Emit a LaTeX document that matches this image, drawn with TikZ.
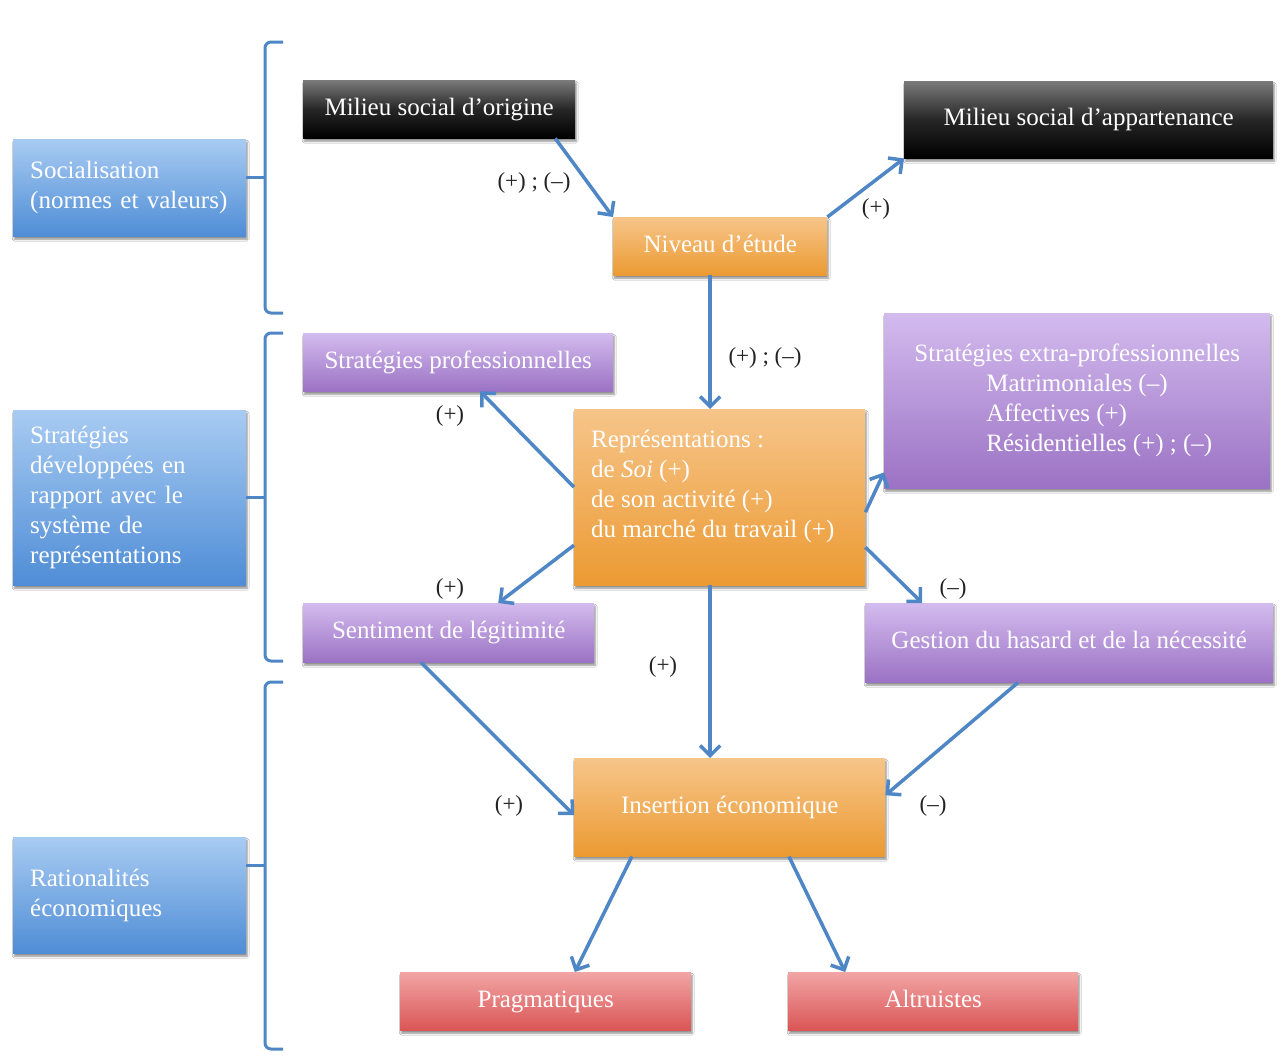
\documentclass[tikz,border=0pt]{standalone}
\usepackage{fontspec}
\setmainfont{Liberation Serif}
\usetikzlibrary{calc,arrows.meta,shadows.blur}
\definecolor{bluetop}{HTML}{A8CBF2}
\definecolor{bluebot}{HTML}{4F8DD6}
\definecolor{orgtop}{HTML}{F6C58A}
\definecolor{orgbot}{HTML}{EC9A32}
\definecolor{purtop}{HTML}{D3BBEE}
\definecolor{purbot}{HTML}{9B72C4}
\definecolor{redtop}{HTML}{F2A5A5}
\definecolor{redbot}{HTML}{DA5555}
\definecolor{blktop}{HTML}{7A7A7A}
\definecolor{arrcol}{HTML}{4F86C6}
\definecolor{labcol}{HTML}{222222}
\tikzset{
  sz/.style 2 args={minimum width=#1pt, minimum height=#2pt},
  one/.style={text height=18pt, text depth=6pt},
  boxbase/.style={rectangle, anchor=north west, inner sep=0pt, text=white,
    font=\fontsize{25}{30}\selectfont,
    blur shadow={shadow xshift=1pt, shadow yshift=-3pt, shadow blur steps=6, shadow opacity=45}},
  bluebox/.style={boxbase, top color=bluetop, bottom color=bluebot},
  orgbox/.style={boxbase, top color=orgtop, bottom color=orgbot},
  purbox/.style={boxbase, top color=purtop, bottom color=purbot},
  redbox/.style={boxbase, top color=redtop, bottom color=redbot},
  blkbox/.style={boxbase, top color=blktop, bottom color=black, middle color=black!85},
  arr/.style={draw=arrcol, line width=3.5pt, -{Straight Barb[length=10pt,width=20pt,line width=3.5pt]}},
  brk/.style={draw=arrcol, line width=3pt, rounded corners=6pt},
  lab/.style={text=labcol, font=\fontsize{23}{28}\selectfont, inner sep=0pt},
  intext/.style={text=white, font=\fontsize{25}{30}\selectfont, inner sep=0pt, align=left}
}
\begin{document}
\begin{tikzpicture}[x=1pt,y=-1pt]
\useasboundingbox[fill=white] (0,0) rectangle (1285,1061);

% left blue boxes
\node[bluebox, sz={233}{97}, text width=199pt, align=left] (soc) at (13,139)
  {Socialisation\\(normes et valeurs)};
\node[bluebox, sz={233}{175}, text width=199pt, align=left] (sdev) at (13,410)
  {Stratégies\\développées en\\rapport avec le\\système de\\représentations};
\node[bluebox, sz={233}{116}, text width=199pt, align=left] (rat) at (13,837)
  {Rationalités\\économiques};

% brackets
\draw[brk] (283,42) -- (265,42) -- (265,313) -- (283,313);
\draw[brk] (283,333) -- (265,333) -- (265,661) -- (283,661);
\draw[brk] (283,682) -- (265,682) -- (265,1049) -- (283,1049);
\draw[draw=arrcol, line width=3pt] ($(soc.east)+(0,-10)$) -- ++(19,0);
\draw[draw=arrcol, line width=3pt] (sdev.east) -- ++(19,0);
\draw[draw=arrcol, line width=3pt] ($(rat.east)+(0,-30)$) -- ++(19,0);

% main boxes
\node[blkbox, one, sz={272}{58}] (mso) at (303,80) {Milieu social d’origine};
\node[blkbox, one, sz={369}{77}] (msa) at (904,81) {Milieu social d’appartenance};
\node[orgbox, one, sz={214}{58}] (niv) at (613,217) {Niveau d’étude};
\node[purbox, one, sz={310}{58}] (sp) at (303,333) {Stratégies professionnelles};
\node[purbox, sz={386}{175}, align=left] (spx) at (884,313)
  {Stratégies extra-professionnelles\\
   \hspace*{72pt}Matrimoniales (–)\\
   \hspace*{72pt}Affectives (+)\\
   \hspace*{72pt}Résidentielles (+) ; (–)};
\node[orgbox, sz={291}{176}] (repr) at (574,409) {};
\node[intext, anchor=west] (reprt) at (591,486)
  {Représentations :\\de \textit{Soi} (+)\\de son activité (+)\\du marché du travail (+)};
\node[purbox, one, sz={291}{59}] (sent) at (303,603) {Sentiment de légitimité};
\node[purbox, one, sz={408}{79}] (gest) at (865,603) {Gestion du hasard et de la nécessité};
\node[orgbox, one, sz={311}{98}] (ins) at (574,758) {Insertion économique};
\node[redbox, one, sz={291}{58}] (prag) at (400,972) {Pragmatiques};
\node[redbox, one, sz={290}{58}] (alt) at (788,972) {Altruistes};

% arrows
\draw[arr] ($(mso.south west)!0.926!(mso.south east)$) -- (niv.north west);
\draw[arr] (niv.north east) -- (msa.south west);
\draw[arr] ($(niv.south)+(-10,0)$) -- ($(repr.north)+(-9.5,0)$);
\draw[arr] ($(repr.west)+(0,-10)$) -- ($(sp.south west)!0.571!(sp.south east)$);
\draw[arr] ($(repr.east)+(0,15)$) -- ($(spx.south west)+(0,-16)$);
\draw[arr] ($(repr.west)+(0,48)$) -- ($(sent.north west)!0.67!(sent.north east)$);
\draw[arr] ($(repr.east)+(0,50)$) -- ($(gest.north west)!0.14!(gest.north east)$);
\draw[arr] ($(repr.south)+(-9.5,0)$) -- ($(ins.north)+(-19.5,0)$);
\draw[arr] ($(sent.south west)!0.405!(sent.south east)$) -- ($(ins.west)+(0,8)$);
\draw[arr] ($(gest.south west)!0.375!(gest.south east)$) -- ($(ins.east)+(0,-12)$);
\draw[arr] ($(ins.south west)!0.186!(ins.south east)$) -- ($(prag.north west)!0.6!(prag.north east)$);
\draw[arr] ($(ins.south west)!0.69!(ins.south east)$) -- ($(alt.north west)!0.197!(alt.north east)$);

% labels
\node[lab] (l1) at (534,183) {(+) ; (–)};
\node[lab] (l2) at (876,209) {(+)};
\node[lab] (l3) at (765,358) {(+) ; (–)};
\node[lab] (l4) at (450,416) {(+)};
\node[lab] (l5) at (450,589) {(+)};
\node[lab] (l6) at (953,589) {(–)};
\node[lab] (l7) at (663,667) {(+)};
\node[lab] (l8) at (509,806) {(+)};
\node[lab] (l9) at (933,806) {(–)};
\end{tikzpicture}
\end{document}
